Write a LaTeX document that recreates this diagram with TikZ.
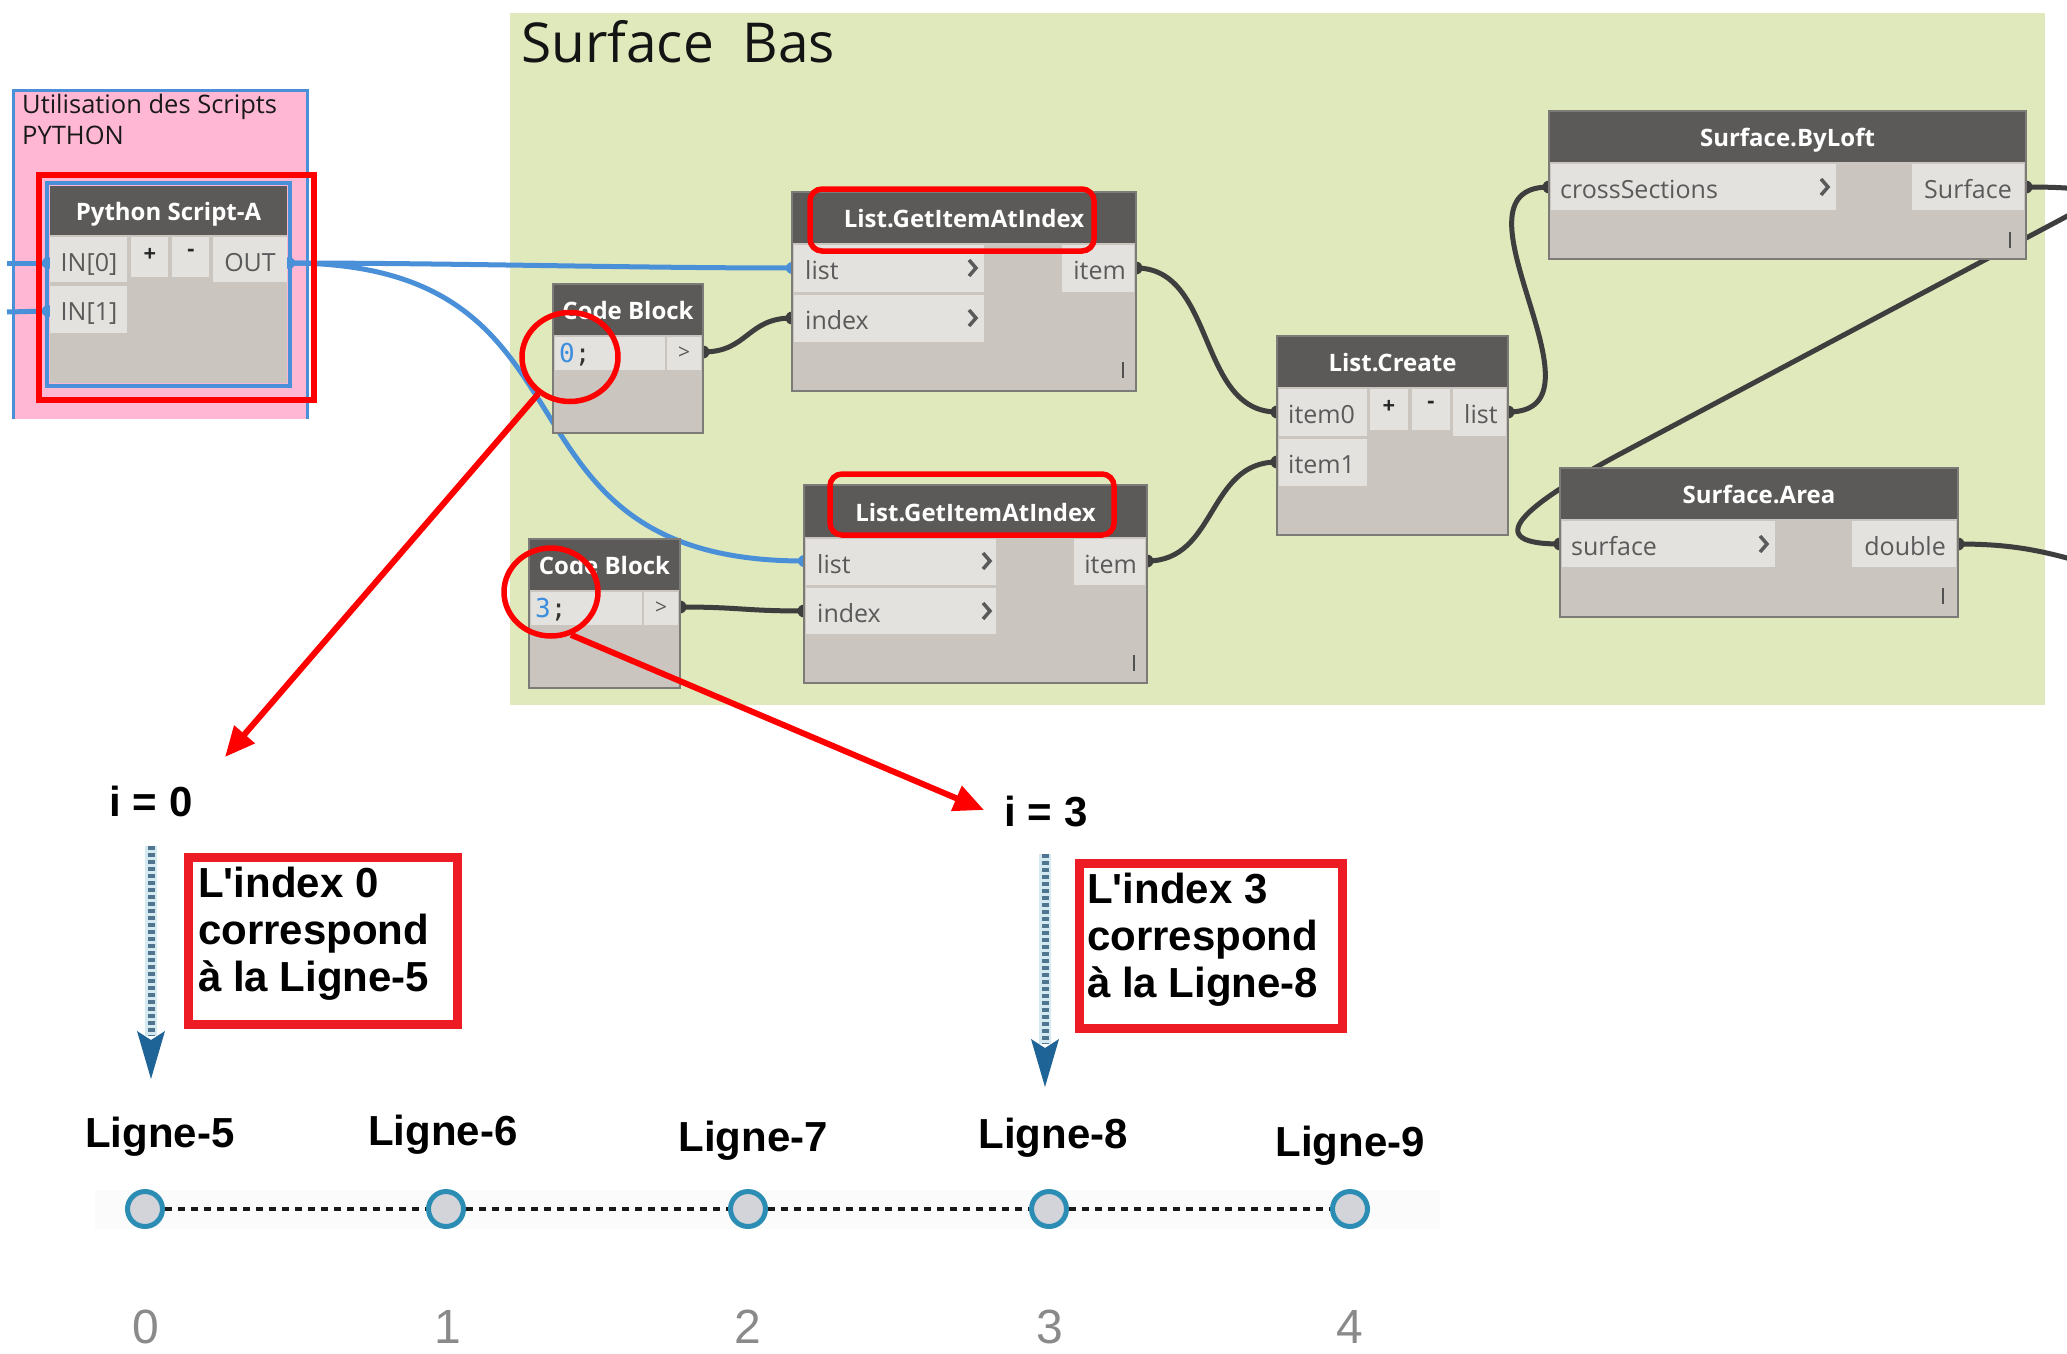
\documentclass[tikz,border=0pt]{standalone}
\usepackage{fontspec}
\setmainfont{Open Sans}
\newfontfamily\arialfont{Liberation Sans}
\newfontfamily\codefont{DejaVu Sans Mono}
\usetikzlibrary{arrows.meta,shapes.geometric}

\definecolor{grpgreen}{HTML}{E0E9BB}
\definecolor{grppink}{HTML}{FFB7D3}
\definecolor{selblue}{HTML}{4A90D9}
\definecolor{hdr}{HTML}{5B5A58}
\definecolor{nbody}{HTML}{CAC6BF}
\definecolor{ncell}{HTML}{E3E2DE}
\definecolor{nedge}{HTML}{7D7B78}
\definecolor{wire}{HTML}{3E3E3E}
\definecolor{celltxt}{HTML}{5A5A5A}
\definecolor{markred}{HTML}{FF0000}
\definecolor{boxred}{HTML}{ED1C24}
\definecolor{dashblue}{HTML}{4F7590}
\definecolor{haloblue}{HTML}{D5EAF0}
\definecolor{headblue}{HTML}{1F6496}
\definecolor{ring}{HTML}{2B8DB3}
\definecolor{ringfill}{HTML}{D3D3DA}
\definecolor{digit}{HTML}{8A8A8A}
\definecolor{codeblue}{HTML}{3B8EDD}

\tikzset{
  hdrtxt/.style={text=white, font=\bfseries\fontsize{24}{28}\selectfont, inner sep=0pt},
  plbl/.style={text=celltxt, font=\fontsize{25}{30}\selectfont, inner sep=0pt},
  smalltxt/.style={text=black!85, font=\bfseries\fontsize{22}{26}\selectfont, inner sep=0pt},
  grptxt/.style={text=black!90, font=\fontsize{25.5}{30}\selectfont, inner sep=0pt},
  codetxt/.style={font=\codefont\fontsize{26}{30}\selectfont, inner sep=0pt},
  bluewire/.style={draw=selblue, line width=5pt},
  blackwire/.style={draw=wire, line width=5pt},
  chevron/.style={draw=celltxt, line width=3.5pt},
  tickmark/.style={draw=celltxt!90!black, line width=2pt},
  redmark/.style={draw=markred, line width=5.5pt},
  redarrow/.style={draw=markred, line width=6pt, -{Triangle[length=30pt,width=26pt]}},
  bigtxt/.style={font=\arialfont\bfseries\fontsize{42}{47}\selectfont, inner sep=0pt},
  digittxt/.style={text=digit, font=\arialfont\fontsize{48}{52}\selectfont, inner sep=0pt},
  stop/.style={circle, draw=ring, fill=ringfill, line width=5pt, minimum size=35pt, inner sep=0pt},
  stopline/.style={draw=black!90, line width=4.5pt, dash pattern=on 7pt off 6pt},
  idxbox/.style={draw=boxred, line width=9pt, inner sep=0pt, anchor=north west},
}

% Dynamo node: name, x1, y1, x2, y2, header bottom, title
\newcommand\dynnode[7]{%
  \node[fill=nbody, inner sep=0pt, outer sep=0pt, anchor=north west,
        minimum width={(#4-#2)*1pt}, minimum height={(#5-#3)*1pt}] (#1) at (#2,#3) {};
  \fill[hdr] (#2,#3) rectangle (#4,#6);
  \node[hdrtxt, anchor=base] (#1-title) at ({(#2+#4)/2},{(#3+#6)/2+10}) {#7};
}
\newcommand\dynframe[1]{\draw[nedge, line width=2pt] (#1.north west) rectangle (#1.south east);}
\newcommand\dcell[4]{\fill[ncell] (#1,#2) rectangle (#3,#4);}
\newcommand\chev[2]{\draw[chevron] ({#1-4},{#2-8}) -- ({#1+3},#2) -- ({#1-4},{#2+8});}
\newcommand\tickat[2]{\draw[tickmark] (#1,{#2-8}) -- (#1,{#2+8});}

\begin{document}
\begin{tikzpicture}[x=1pt,y=-1pt]
\useasboundingbox (0,0) rectangle (2067,1354);
\clip (0,0) rectangle (2067,1354);
\fill[white] (0,0) rectangle (2067,1354);

% ---------- groups ----------
\fill[grppink] (13,90) rectangle (307,419);
\draw[selblue, line width=3pt] (13,419) -- (13,90) -- (307,90) -- (307,419);
\node[grptxt, anchor=base west] (pyg1) at (22,113) {Utilisation des Scripts};
\node[grptxt, anchor=base west] (pyg2) at (22,144) {PYTHON};

\fill[grpgreen] (510,13) rectangle (2045,705);
\node[anchor=base west, text=black!92, font=\fontsize{55}{60}\selectfont, inner sep=0pt] (sbas) at (521,63) {Surface~~Bas};

% ---------- ports ----------
\coordinate (lin0) at (7,263);
\coordinate (lin1) at (7,312);
\coordinate (py-in0) at (48,263);
\coordinate (py-in1) at (48,311);
\coordinate (py-out) at (289,263);
\coordinate (c1-out) at (703,352);
\coordinate (c2-out) at (680,607);
\coordinate (g1-list) at (792,268);
\coordinate (g1-index) at (792,318);
\coordinate (g1-item) at (1136,268);
\coordinate (g2-list) at (804,561);
\coordinate (g2-index) at (804,611);
\coordinate (g2-item) at (1147,561);
\coordinate (lc-item0) at (1277,412);
\coordinate (lc-item1) at (1277,462);
\coordinate (lc-list) at (1508,412);
\coordinate (bl-cross) at (1549,187);
\coordinate (bl-surf) at (2026,187);
\coordinate (sa-surf) at (1560,544);
\coordinate (sa-dbl) at (1958,544);
\coordinate (loop-a) at (2090,204);
\coordinate (loop-b) at (1620,454);
\coordinate (edge-dbl) at (2085,563);

% ---------- wires (behind the nodes) ----------
\draw[bluewire] (lin0) -- (py-in0);
\draw[bluewire] (lin1) -- (py-in1);
\draw[bluewire] (py-out) .. controls +(160,0) and +(-160,0) .. (g1-list);
\draw[bluewire] (py-out) .. controls +(330,0) and +(-330,0) .. (g2-list);

\draw[blackwire] (c1-out) .. controls +(45,0) and +(-45,0) .. (g1-index);
\draw[blackwire] (c2-out) .. controls +(60,0) and +(-60,0) .. (g2-index);
\draw[blackwire] (g1-item) .. controls +(80,0) and +(-80,0) .. (lc-item0);
\draw[blackwire] (g2-item) .. controls +(70,0) and +(-70,0) .. (lc-item1);
\draw[blackwire] (lc-list) .. controls +(110,0) and +(-110,0) .. (bl-cross);
\draw[blackwire] (bl-surf) .. controls (2075,187) and (2115,190) .. (loop-a)
                 -- (loop-b) .. controls (1540,497) and (1470,544) .. (sa-surf);
\draw[blackwire] (sa-dbl) .. controls (2010,544) and (2040,550) .. (edge-dbl);

\foreach \p in {py-in0,py-in1,py-out,g1-list,g2-list}
  \fill[selblue] (\p) circle (6);
\foreach \p in {c1-out,c2-out,g1-index,g2-index,g1-item,g2-item,lc-item0,lc-item1,lc-list,bl-cross,bl-surf,sa-surf,sa-dbl}
  \fill[wire] (\p) circle (6.5);

% ---------- Python Script-A ----------
\dynnode{py}{50}{186}{287}{383}{235}{Python Script-A}
\dcell{50}{237}{127}{282}
\dcell{131}{237}{168}{277}
\dcell{172}{237}{209}{277}
\dcell{213}{237}{287}{282}
\dcell{50}{286}{127}{333}
\node[plbl, anchor=base] (py-l0) at (89,271) {IN[0]};
\node[smalltxt, anchor=center] (py-plus) at (150,255) {+};
\node[smalltxt, anchor=center] (py-minus) at (191,253) {-};
\node[plbl, anchor=base] (py-lo) at (250,271) {OUT};
\node[plbl, anchor=base] (py-l1) at (89,320) {IN[1]};
\draw[selblue, line width=3.5pt] (47,183) rectangle (290,386);

% ---------- Code Block (0) ----------
\dynnode{c1}{553}{284}{703}{433}{335}{Code Block}
\dcell{555}{337}{665}{370}
\dcell{667}{337}{701}{370}
\node[codetxt, anchor=base west] (c1-code) at (559,362) {\textcolor{codeblue}{0}\textcolor{black!80};};
\node[plbl, font=\fontsize{21}{24}\selectfont, anchor=center] (c1-gt) at (684,353) {>};
\dynframe{c1}

% ---------- Code Block (3) ----------
\dynnode{c2}{529}{539}{680}{688}{590}{Code Block}
\dcell{531}{592}{642}{625}
\dcell{644}{592}{678}{625}
\node[codetxt, anchor=base west] (c2-code) at (535,617) {\textcolor{codeblue}{3}\textcolor{black!80};};
\node[plbl, font=\fontsize{21}{24}\selectfont, anchor=center] (c2-gt) at (661,608) {>};
\dynframe{c2}

% ---------- List.GetItemAtIndex (upper) ----------
\dynnode{g1}{792}{192}{1136}{391}{243}{List.GetItemAtIndex}
\dcell{794}{245}{984}{292}
\dcell{794}{295}{984}{342}
\dcell{1062}{245}{1134}{292}
\node[plbl, anchor=base west] (g1-l1) at (805,279) {list};
\node[plbl, anchor=base west] (g1-l2) at (805,329) {index};
\node[plbl, anchor=base east] (g1-l3) at (1126,279) {item};
\chev{973}{268}
\chev{973}{318}
\tickat{1123}{370}
\dynframe{g1}

% ---------- List.GetItemAtIndex (lower) ----------
\dynnode{g2}{804}{485}{1147}{683}{537}{List.GetItemAtIndex}
\dcell{806}{539}{996}{585}
\dcell{806}{588}{996}{634}
\dcell{1074}{539}{1145}{585}
\node[plbl, anchor=base west] (g2-l1) at (817,573) {list};
\node[plbl, anchor=base west] (g2-l2) at (817,622) {index};
\node[plbl, anchor=base east] (g2-l3) at (1137,573) {item};
\chev{987}{561}
\chev{987}{611}
\tickat{1134}{663}
\dynframe{g2}

% ---------- List.Create ----------
\dynnode{lc}{1277}{336}{1508}{535}{387}{List.Create}
\dcell{1279}{389}{1367}{436}
\dcell{1370}{389}{1408}{430}
\dcell{1412}{389}{1450}{430}
\dcell{1453}{389}{1506}{436}
\dcell{1279}{439}{1367}{486}
\node[plbl, anchor=base west] (lc-l0) at (1288,423) {item0};
\node[smalltxt, anchor=center] (lc-plus) at (1389,407) {+};
\node[smalltxt, anchor=center] (lc-minus) at (1431,405) {-};
\node[plbl, anchor=base west] (lc-l2) at (1464,423) {list};
\node[plbl, anchor=base west] (lc-l1) at (1288,473) {item1};
\dynframe{lc}

% ---------- Surface.ByLoft ----------
\dynnode{bl}{1549}{111}{2026}{259}{162}{Surface.ByLoft}
\dcell{1551}{164}{1836}{210}
\dcell{1912}{164}{2024}{210}
\node[plbl, anchor=base west] (bl-l1) at (1560,198) {crossSections};
\node[plbl, anchor=base east] (bl-l2) at (2012,198) {Surface};
\chev{1825}{187}
\tickat{2010}{240}
\dynframe{bl}

% ---------- Surface.Area ----------
\dynnode{sa}{1560}{468}{1958}{617}{519}{Surface.Area}
\dcell{1562}{521}{1775}{567}
\dcell{1852}{521}{1956}{567}
\node[plbl, anchor=base west] (sa-l1) at (1571,555) {surface};
\node[plbl, anchor=base east] (sa-l2) at (1946,555) {double};
\chev{1764}{544}
\tickat{1943}{596}
\dynframe{sa}

% ---------- red highlights ----------
\draw[redmark] (39,175) rectangle (314,400);
\draw[redmark, rounded corners=12pt] (810,189) rectangle (1094,251);
\draw[redmark, rounded corners=12pt] (830,474) rectangle (1114,535);
\node[ellipse, draw=markred, line width=5.5pt, minimum width=96pt, minimum height=89pt, inner sep=0pt] (ring0) at (570,357) {};
\node[ellipse, draw=markred, line width=5.5pt, minimum width=94pt, minimum height=88pt, inner sep=0pt] (ring3) at (551,592) {};

% ---------- index explanations ----------
\node[bigtxt, anchor=base] (i0) at (151,816) {i = 0};
\node[bigtxt, anchor=base] (i3) at (1046,826) {i = 3};
\coordinate (tipA) at (225,757);
\coordinate (tipB) at (984,810);
\draw[redarrow] (ring0) -- (tipA);
\draw[redarrow] (ring3.-65) -- (tipB);

\node[idxbox, minimum width=269pt, minimum height=167pt] (box0) at (183.5,852.5) {};
\node[bigtxt, anchor=base west] (box0a) at (198,897) {L'index 0};
\node[bigtxt, anchor=base west] (box0b) at (198,944) {correspond};
\node[bigtxt, anchor=base west] (box0c) at (198,991) {à la Ligne-5};

\node[idxbox, minimum width=263pt, minimum height=165pt] (box3) at (1074.5,858.5) {};
\node[bigtxt, anchor=base west] (box3a) at (1087,903) {L'index 3};
\node[bigtxt, anchor=base west] (box3b) at (1087,950) {correspond};
\node[bigtxt, anchor=base west] (box3c) at (1087,997) {à la Ligne-8};

% dotted pointers down to the timeline
\coordinate (d0s) at (151,846);
\coordinate (d0e) at (151,1036);
\coordinate (d3s) at (1045,854);
\coordinate (d3e) at (1045,1044);
\draw[haloblue, line width=12pt] (d0s) -- (d0e);
\draw[dashblue, line width=7pt, dash pattern=on 3.5pt off 3.5pt] (d0s) -- (d0e);
\fill[headblue] (137,1031) -- (151,1040) -- (165,1031) -- (151,1079) -- cycle;
\draw[haloblue, line width=12pt] (d3s) -- (d3e);
\draw[dashblue, line width=7pt, dash pattern=on 3.5pt off 3.5pt] (d3s) -- (d3e);
\fill[headblue] (1031,1039) -- (1045,1048) -- (1059,1039) -- (1045,1087) -- cycle;

% ---------- timeline ----------
\fill[black!1.5] (95,1190) rectangle (1440,1229);
\node[bigtxt, anchor=center] (lg5) at (160,1137) {Ligne-5};
\node[bigtxt, anchor=center] (lg6) at (443,1135) {Ligne-6};
\node[bigtxt, anchor=center] (lg7) at (753,1141) {Ligne-7};
\node[bigtxt, anchor=center] (lg8) at (1053,1138) {Ligne-8};
\node[bigtxt, anchor=center] (lg9) at (1350,1146) {Ligne-9};

\node[stop] (p0) at (145,1209) {};
\node[stop] (p1) at (446,1209) {};
\node[stop] (p2) at (748,1209) {};
\node[stop] (p3) at (1049,1209) {};
\node[stop] (p4) at (1350,1209) {};
\draw[stopline] (p0) -- (p1);
\draw[stopline] (p1) -- (p2);
\draw[stopline] (p2) -- (p3);
\draw[stopline] (p3) -- (p4);

\node[digittxt, anchor=center] (n0) at (146,1327) {0};
\node[digittxt, anchor=center] (n1) at (448,1327) {1};
\node[digittxt, anchor=center] (n2) at (748,1327) {2};
\node[digittxt, anchor=center] (n3) at (1050,1327) {3};
\node[digittxt, anchor=center] (n4) at (1350,1327) {4};
\end{tikzpicture}
\end{document}
